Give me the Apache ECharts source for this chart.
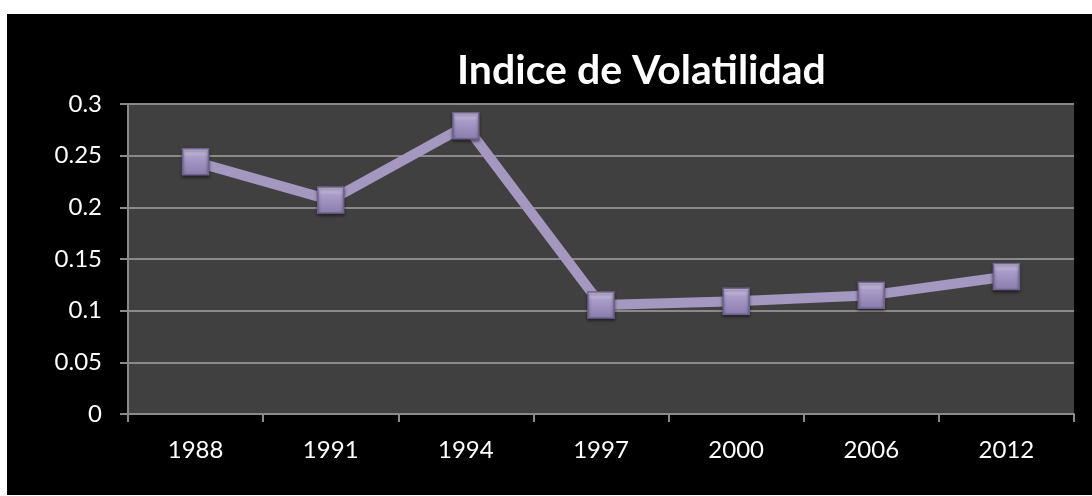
<!DOCTYPE html>
<html>
<head>
<meta charset="utf-8">
<script src="https://cdn.jsdelivr.net/npm/echarts@6/dist/echarts.min.js"></script>
<style>
  html, body { margin: 0; padding: 0; background: #fff; }
  #chart { width: 1092px; height: 496px; }
</style>
</head>
<body>
<div id="chart"></div>
<script>
var years = ['1988', '1991', '1994', '1997', '2000', '2006', '2012'];
var volatility = [0.244, 0.207, 0.279, 0.1055, 0.109, 0.115, 0.133];
var yTicks = { min: 0, max: 0.3, interval: 0.05 };

var myChart = echarts.init(document.getElementById('chart'));

var option = {
  backgroundColor: '#ffffff',
  animation: false,
  graphic: [{
    type: 'rect',
    z: -10,
    shape: { x: 7, y: 14, width: 1085, height: 481 },
    style: { fill: '#000000' }
  }],
  title: {
    text: 'Indice de Volatilidad',
    left: 452,
    top: 45,
    textStyle: {
      color: '#ffffff',
      fontFamily: 'Lato',
      fontWeight: 'bold',
      fontSize: 41
    }
  },
  grid: {
    left: 128,
    top: 104,
    right: 18,
    bottom: 82,
    show: true,
    backgroundColor: '#404040',
    borderWidth: 0
  },
  xAxis: {
    type: 'category',
    data: years,
    boundaryGap: true,
    axisLine: { lineStyle: { color: '#8a8a8a', width: 2 } },
    axisTick: { show: true, length: 8, lineStyle: { color: '#8a8a8a', width: 2 } },
    axisLabel: {
      color: '#ffffff',
      fontFamily: 'Lato',
      fontSize: 24,
      margin: 24
    }
  },
  yAxis: {
    type: 'value',
    min: yTicks.min,
    max: yTicks.max,
    interval: yTicks.interval,
    axisLine: { show: true, lineStyle: { color: '#8a8a8a', width: 2 } },
    axisTick: { show: true, length: 8, lineStyle: { color: '#8a8a8a', width: 2 } },
    splitLine: { lineStyle: { color: '#8a8a8a', width: 2 } },
    axisLabel: {
      color: '#ffffff',
      fontFamily: 'Lato',
      fontSize: 24,
      margin: 26
    }
  },
  series: [{
    type: 'line',
    data: volatility,
    symbol: 'rect',
    symbolSize: 26,
    lineStyle: { color: '#a497c0', width: 10 },
    itemStyle: {
      color: new echarts.graphic.LinearGradient(0, 0, 0, 1, [
        { offset: 0, color: '#e2d8f5' },
        { offset: 0.3, color: '#ab9dca' },
        { offset: 1, color: '#8a7cab' }
      ]),
      borderColor: '#6e6390',
      borderWidth: 1.5,
      shadowColor: 'rgba(0,0,0,0.5)',
      shadowBlur: 3,
      shadowOffsetY: 2
    }
  }]
};

myChart.setOption(option);
</script>
</body>
</html>
